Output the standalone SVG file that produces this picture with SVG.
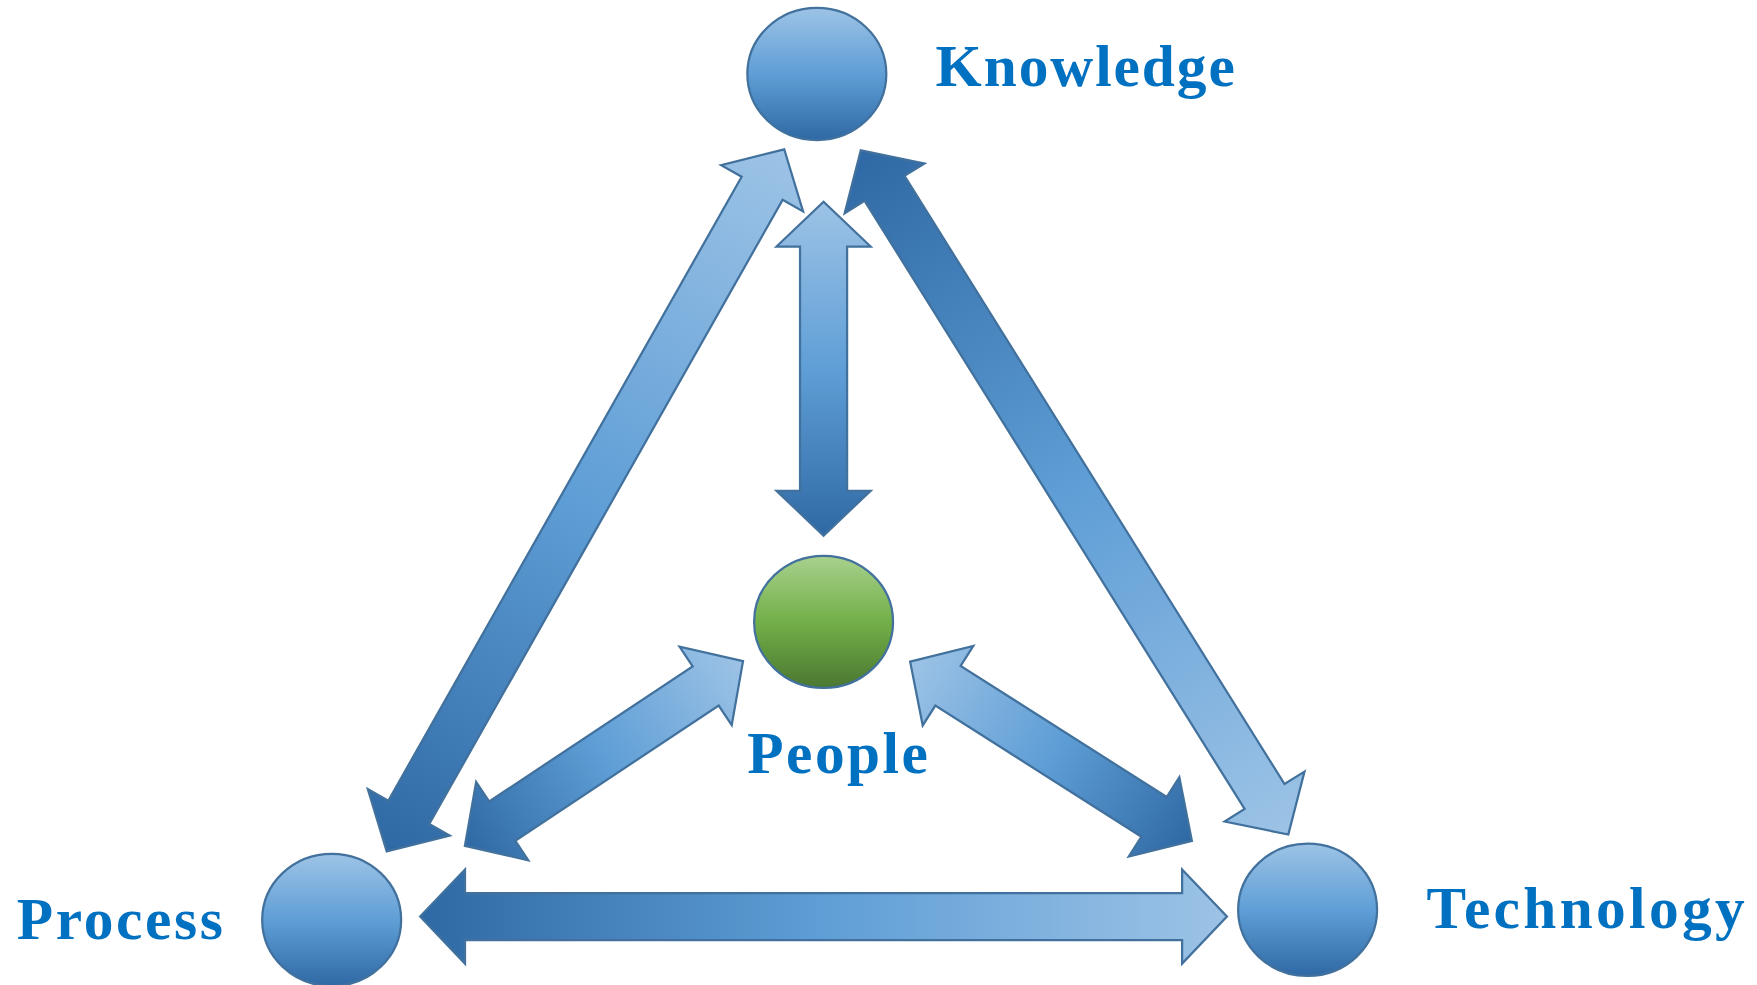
<svg xmlns="http://www.w3.org/2000/svg" width="1757" height="985" viewBox="0 0 1757 985">
<defs>
<linearGradient id="gDL" x1="0" y1="0" x2="1" y2="0">
<stop offset="0" stop-color="#2F69A5"/>
<stop offset="0.5" stop-color="#5F9ED6"/>
<stop offset="1" stop-color="#9DC3E6"/>
</linearGradient>
<linearGradient id="gLD" x1="0" y1="0" x2="1" y2="0">
<stop offset="0" stop-color="#9DC3E6"/>
<stop offset="0.5" stop-color="#5F9ED6"/>
<stop offset="1" stop-color="#2F69A5"/>
</linearGradient>
<linearGradient id="gBlue" x1="0" y1="0" x2="0" y2="1">
<stop offset="0" stop-color="#9DC3E6"/>
<stop offset="0.5" stop-color="#5F9ED6"/>
<stop offset="1" stop-color="#2F69A5"/>
</linearGradient>
<linearGradient id="gGreen" x1="0" y1="0" x2="0" y2="1">
<stop offset="0" stop-color="#A9D18E"/>
<stop offset="0.5" stop-color="#72B048"/>
<stop offset="1" stop-color="#4B7731"/>
</linearGradient>
<path id="arrShort" d="M149,0 L109,-42 L109,-21 L-109,-21 L-109,-42 L-149,0 L-109,42 L-109,21 L109,21 L109,42 Z"/>
<path id="arrLong" d="M360,0 L320,-42 L320,-21 L-320,-21 L-320,-42 L-360,0 L-320,42 L-320,21 L320,21 L320,42 Z"/>
</defs>
<style>
.node{stroke:#41719C;stroke-width:2}
.arrow{stroke:#41719C;stroke-width:2;stroke-linejoin:miter}
.label{font-family:"Liberation Serif","Times New Roman",serif;font-weight:bold;font-size:53px;fill:#0070C0}
</style>
<rect width="1757" height="985" fill="#FFFFFF"/>
<g transform="scale(1.1205)">
<g id="connectors">
<use href="#arrShort" class="arrow" fill="url(#gLD)" transform="translate(735,329) rotate(90)"/>
<use href="#arrLong" class="arrow" fill="url(#gDL)" transform="translate(522.5,446.5) rotate(-60.48)"/>
<use href="#arrLong" class="arrow" fill="url(#gDL)" transform="translate(959,439.5) rotate(58)"/>
<use href="#arrLong" class="arrow" fill="url(#gDL)" transform="translate(735,818)"/>
<use href="#arrShort" class="arrow" fill="url(#gDL)" transform="translate(539,672.5) rotate(-33.6)"/>
<use href="#arrShort" class="arrow" fill="url(#gLD)" transform="translate(938,670.5) rotate(32.46)"/>
</g>
<g id="knowledge">
<ellipse class="node" cx="729" cy="66" rx="62" ry="59" fill="url(#gBlue)"/>
<text class="label" x="835" y="77" textLength="267" lengthAdjust="spacing">Knowledge</text>
</g>
<g id="people">
<ellipse class="node" cx="735" cy="555" rx="62" ry="59" fill="url(#gGreen)"/>
<text class="label" x="667" y="690" textLength="161" lengthAdjust="spacing">People</text>
</g>
<g id="process">
<ellipse class="node" cx="296" cy="821" rx="62" ry="59" fill="url(#gBlue)"/>
<text class="label" x="15" y="838" textLength="184" lengthAdjust="spacing">Process</text>
</g>
<g id="technology">
<ellipse class="node" cx="1167" cy="812" rx="62" ry="59" fill="url(#gBlue)"/>
<text class="label" x="1273" y="828" textLength="284" lengthAdjust="spacing">Technology</text>
</g>
</g>
</svg>
